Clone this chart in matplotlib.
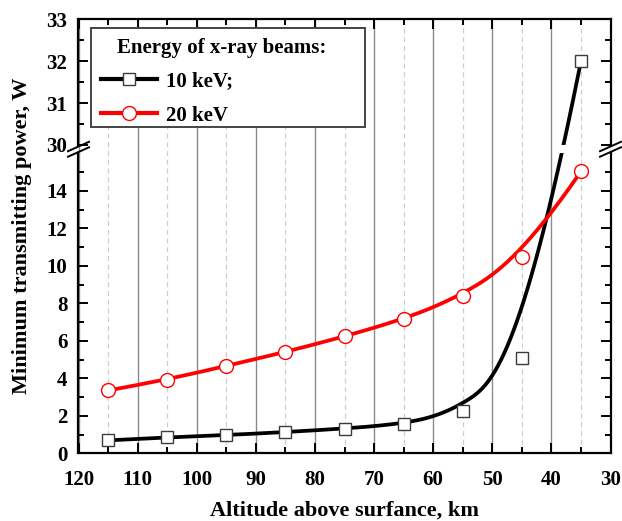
import numpy as np
import matplotlib
matplotlib.use("Agg")
import matplotlib.pyplot as plt
from matplotlib.lines import Line2D
from matplotlib.patches import Rectangle

# altitude (km) and minimum transmitting power (W)
altitude = [115, 105, 95, 85, 75, 65, 55, 45, 35]
power_10kev = [0.69, 0.85, 0.97, 1.13, 1.32, 1.56, 2.26, 5.07, 32.0]
power_20kev = [3.35, 3.93, 4.66, 5.40, 6.23, 7.15, 8.38, 10.45, 15.03]

x_major = np.arange(120, 29, -10)
x_minor = np.arange(115, 34, -10)
y_low_ticks = np.arange(0, 15, 2)
y_high_ticks = [30, 31, 32, 33]

plt.rcParams["font.family"] = ["Liberation Serif", "DejaVu Serif"]
plt.rcParams["font.weight"] = "bold"
plt.rcParams["axes.labelweight"] = "bold"

W, H = 622, 521
left, right = 78.5, 610.5
top, brk_hi, brk_lo, bottom = 19.3, 145.0, 153.0, 453.3
px_lo = 18.75     # pixels per W below the break
px_hi = 42.0      # pixels per W above the break
lo_top = (bottom - brk_lo) / px_lo
hi_base = bottom - brk_hi   # screen height of y = 30


def to_screen(y):
    y = np.asarray(y, float)
    return np.where(y >= 30, hi_base + (y - 30) * px_hi, y * px_lo)


def bspline(xs, ys, n=800, k=3):
    """clamped cubic B-spline with the points as control polygon"""
    P = np.column_stack([xs, ys]).astype(float)
    m = len(P)
    t = np.concatenate([np.zeros(k + 1), np.arange(1, m - k), np.full(k + 1, m - k)])
    out = []
    for u in np.linspace(0, m - k, n):
        i = min(np.searchsorted(t, u, side="right") - 1, m - 1)
        d = [P[j + i - k].copy() for j in range(k + 1)]
        for r in range(1, k + 1):
            for j in range(k, r - 1, -1):
                a = (u - t[j + i - k]) / (t[j + 1 + i - r] - t[j + i - k])
                d[j] = (1 - a) * d[j - 1] + a * d[j]
        out.append(d[k])
    out = np.array(out)
    return out[:, 0], out[:, 1]


fig = plt.figure(figsize=(W / 100, H / 100), dpi=100)

# background axes only for the vertical grid, spanning both panels
ax_bg = fig.add_axes([left / W, 1 - bottom / H, (right - left) / W, (bottom - top) / H])
ax_bg.set_xlim(120, 30)
ax_bg.set_xticks(x_major)
ax_bg.set_xticks(x_minor, minor=True)
ax_bg.grid(True, which="major", axis="x", color="#8a8a8a", lw=1.0)
ax_bg.grid(True, which="minor", axis="x", color="#cfcfcf", lw=0.9, ls=(0, (4, 3)))
ax_bg.tick_params(which="both", length=0, labelbottom=False, labelleft=False)
ax_bg.set_yticks([])
for s in ax_bg.spines.values():
    s.set_visible(False)

ax_hi = fig.add_axes([left / W, 1 - brk_hi / H, (right - left) / W, (brk_hi - top) / H])
ax_lo = fig.add_axes([left / W, 1 - bottom / H, (right - left) / W, (bottom - brk_lo) / H])

# the smoothing is done in screen space across the break
series = [
    (power_10kev, "black", dict(marker="s", ms=9, mfc="white", mec="#3c3c3c")),
    (power_20kev, "red", dict(marker="o", ms=10, mfc="white", mec="red")),
]

for ax in (ax_hi, ax_lo):
    ax.patch.set_alpha(0)
    ax.set_xlim(120, 30)
    ax.set_xticks(x_major)
    ax.set_xticks(x_minor, minor=True)
    for vals, col, mk in series:
        sx, ss = bspline(altitude, to_screen(vals))
        if ax is ax_hi:
            sy = 30 + (ss - hi_base) / px_hi
        else:
            sy = ss / px_lo
        ax.plot(sx, sy, color=col, lw=2.7, zorder=3, solid_capstyle="butt")
        ax.plot(altitude, vals, ls="none", mew=1.0, zorder=4, **mk)
    for s in ax.spines.values():
        s.set_linewidth(1.6)
    ax.tick_params(which="both", direction="in", width=1.4, labelsize=15,
                   left=True, right=True)
    ax.tick_params(which="major", length=7)
    ax.tick_params(which="minor", length=4)
    ax.tick_params(axis="y", pad=8)

ax_hi.set_ylim(30, 33)
ax_hi.set_yticks(y_high_ticks)
ax_hi.set_yticks([30.5, 31.5, 32.5], minor=True)
ax_hi.spines["bottom"].set_visible(False)
ax_hi.tick_params(which="both", top=True, bottom=False, labelbottom=False)

ax_lo.set_ylim(0, lo_top)
ax_lo.set_yticks(y_low_ticks)
ax_lo.set_yticks(np.arange(1, 16, 2), minor=True)
ax_lo.spines["top"].set_visible(False)
ax_lo.tick_params(which="both", top=False, bottom=True)
ax_lo.tick_params(axis="x", pad=12)

# axis break marks on both side spines
for xs in (left, right):
    for yc in (brk_hi + 1.5, brk_lo - 1.0):
        fig.add_artist(Line2D([(xs - 10.5) / W, (xs + 10.5) / W],
                              [1 - (yc + 4.7) / H, 1 - (yc - 4.7) / H],
                              color="black", lw=1.4, transform=fig.transFigure))

ax_lo.set_xlabel("Altitude above surfance, km", fontsize=16, labelpad=7.5)
fig.text(22 / W, 1 - 236 / H, "Minimum transmitting power, W", rotation=90,
         ha="center", va="center", fontsize=16, fontweight="bold")

# legend: framed box with a centred title line and two entries
fig.add_artist(Rectangle((91 / W, 1 - 127.3 / H), (365 - 91) / W, (127.3 - 28.3) / H,
                         transform=fig.transFigure, facecolor="white",
                         edgecolor="#444444", lw=1.4, zorder=9))
fig.text(222 / W, 1 - 47.5 / H, "Energy of x-ray beams:", ha="center", va="center",
         fontsize=15, fontweight="bold", zorder=10)
handles = [
    Line2D([], [], color="black", lw=3, marker="s", ms=9, mfc="white", mec="#3c3c3c"),
    Line2D([], [], color="red", lw=3, marker="o", ms=10, mfc="white", mec="red"),
]
leg = fig.legend(handles, ["10 keV;", "20 keV"], loc="upper left",
                 bbox_to_anchor=(101 / W, 1 - 71 / H), borderaxespad=0, borderpad=0,
                 fontsize=15, frameon=False, handlelength=2.69,
                 labelspacing=0.7, handletextpad=0.42)
leg.set_zorder(11)

fig.savefig("out.png", dpi=100)
